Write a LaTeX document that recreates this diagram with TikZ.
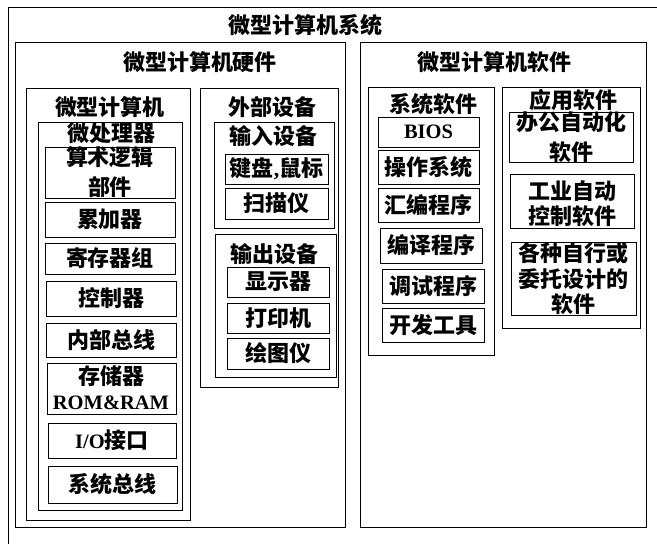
\documentclass[tikz,border=0pt]{standalone}
\usepackage{fontspec}
\setmainfont{Noto Sans CJK SC}
\newfontfamily\lat{Liberation Serif}
\usetikzlibrary{fit}
\begin{document}
\begin{tikzpicture}[x=1pt,y=-1pt,
  frame/.style={draw, line width=0.8pt, inner sep=0pt},
  txt/.style={inner sep=0pt, font=\bfseries\fontsize{22}{27}\selectfont},
  lattxt/.style={inner sep=0pt, font=\lat\bfseries\fontsize{20.5}{25}\selectfont}]
\useasboundingbox (0,0) rectangle (657,544);
% outermost frame (runs off the page right and bottom)
\draw[line width=0.8pt] (8,544) -- (8,7) -- (657,7);
\node[txt] (sys) at (305,25) {微型计算机系统};
% hardware
\node[frame, fit={(15,42) (345,527)}] (hw) {};
\node[txt] (hwt) at (200,62) {微型计算机硬件};
\node[frame, fit={(26,88) (190,520)}] (mc) {};
\node[txt] (mct) at (110,107) {微型计算机};
\node[frame, fit={(38,122) (182,510)}] (mp) {};
\node[txt] (mpt) at (111,133) {微处理器};
\node[frame, fit={(45,147) (175,198)}] (alu) {};
\node[txt] (alu1) at (110,157) {算术逻辑};
\node[txt] (alu2) at (110,187) {部件};
\node[frame, fit={(45,202) (175,237)}] (acc) {};
\node[txt] (acct) at (acc) {累加器};
\node[frame, fit={(45,243) (175,274)}] (reg) {};
\node[txt] (regt) at (reg) {寄存器组};
\node[frame, fit={(46,281) (176,316)}] (ctl) {};
\node[txt] (ctlt) at (ctl) {控制器};
\node[frame, fit={(46,323) (176,357)}] (ibus) {};
\node[txt] (ibust) at (ibus) {内部总线};
\node[frame, fit={(47,363) (176,414)}] (mem) {};
\node[txt] (mem1) at (111,376) {存储器};
\node[lattxt] (mem2) at (111,403) {ROM\&RAM};
\node[frame, fit={(48,423) (176,458)}] (io) {};
\node[txt] (iot) at (io) {{\lat\fontsize{20.5}{25}\selectfont I/O}接口};
\node[frame, fit={(48,466) (177,503)}] (sbus) {};
\node[txt] (sbust) at (sbus) {系统总线};
% peripherals
\node[frame, fit={(200,88) (338,387)}] (ext) {};
\node[txt] (extt) at (272,107) {外部设备};
\node[frame, fit={(214,122) (334,228)}] (in) {};
\node[txt] (int) at (273,136) {输入设备};
\node[frame, fit={(225,154) (328,184)}] (kb) {};
\node[txt] (kbt) at (kb) {键盘{\lat ,}鼠标};
\node[frame, fit={(225,188) (328,219)}] (scan) {};
\node[txt] (scant) at (scan) {扫描仪};
\node[frame, fit={(215,234) (336,377)}] (out) {};
\node[txt] (outt) at (274,254) {输出设备};
\node[frame, fit={(227,267) (329,297)}] (disp) {};
\node[txt] (dispt) at (disp) {显示器};
\node[frame, fit={(227,303) (329,333)}] (prn) {};
\node[txt] (prnt) at (prn) {打印机};
\node[frame, fit={(227,338) (329,369)}] (plot) {};
\node[txt] (plott) at (plot) {绘图仪};
% software
\node[frame, fit={(360,42) (646,527)}] (sw) {};
\node[txt] (swt) at (494,62) {微型计算机软件};
\node[frame, fit={(368,87) (494,355)}] (ss) {};
\node[txt] (sst) at (433,104) {系统软件};
\node[frame, fit={(378,117) (479,147)}] (bios) {};
\node[lattxt] (biost) at (bios) {BIOS};
\node[frame, fit={(378,150) (479,184)}] (os) {};
\node[txt] (ost) at (os) {操作系统};
\node[frame, fit={(378,188) (479,222)}] (asm) {};
\node[txt] (asmt) at (asm) {汇编程序};
\node[frame, fit={(380,228) (482,263)}] (comp) {};
\node[txt] (compt) at (comp) {编译程序};
\node[frame, fit={(382,269) (484,303)}] (dbg) {};
\node[txt] (dbgt) at (dbg) {调试程序};
\node[frame, fit={(382,308) (484,342)}] (dev) {};
\node[txt] (devt) at (dev) {开发工具};
\node[frame, fit={(502,87) (640,328)}] (as) {};
\node[txt] (ast) at (573,100) {应用软件};
\node[frame, fit={(509,112) (633,162)}] (oa) {};
\node[txt] (oa1) at (571,122) {办公自动化};
\node[txt] (oa2) at (571,152) {软件};
\node[frame, fit={(510,174) (634,228)}] (ia) {};
\node[txt] (ia1) at (572,191) {工业自动};
\node[txt] (ia2) at (572,216) {控制软件};
\node[frame, fit={(511,242) (636,315)}] (cust) {};
\node[txt] (cu1) at (573,253) {各种自行或};
\node[txt] (cu2) at (573,279) {委托设计的};
\node[txt] (cu3) at (573,304) {软件};
\end{tikzpicture}
\end{document}
